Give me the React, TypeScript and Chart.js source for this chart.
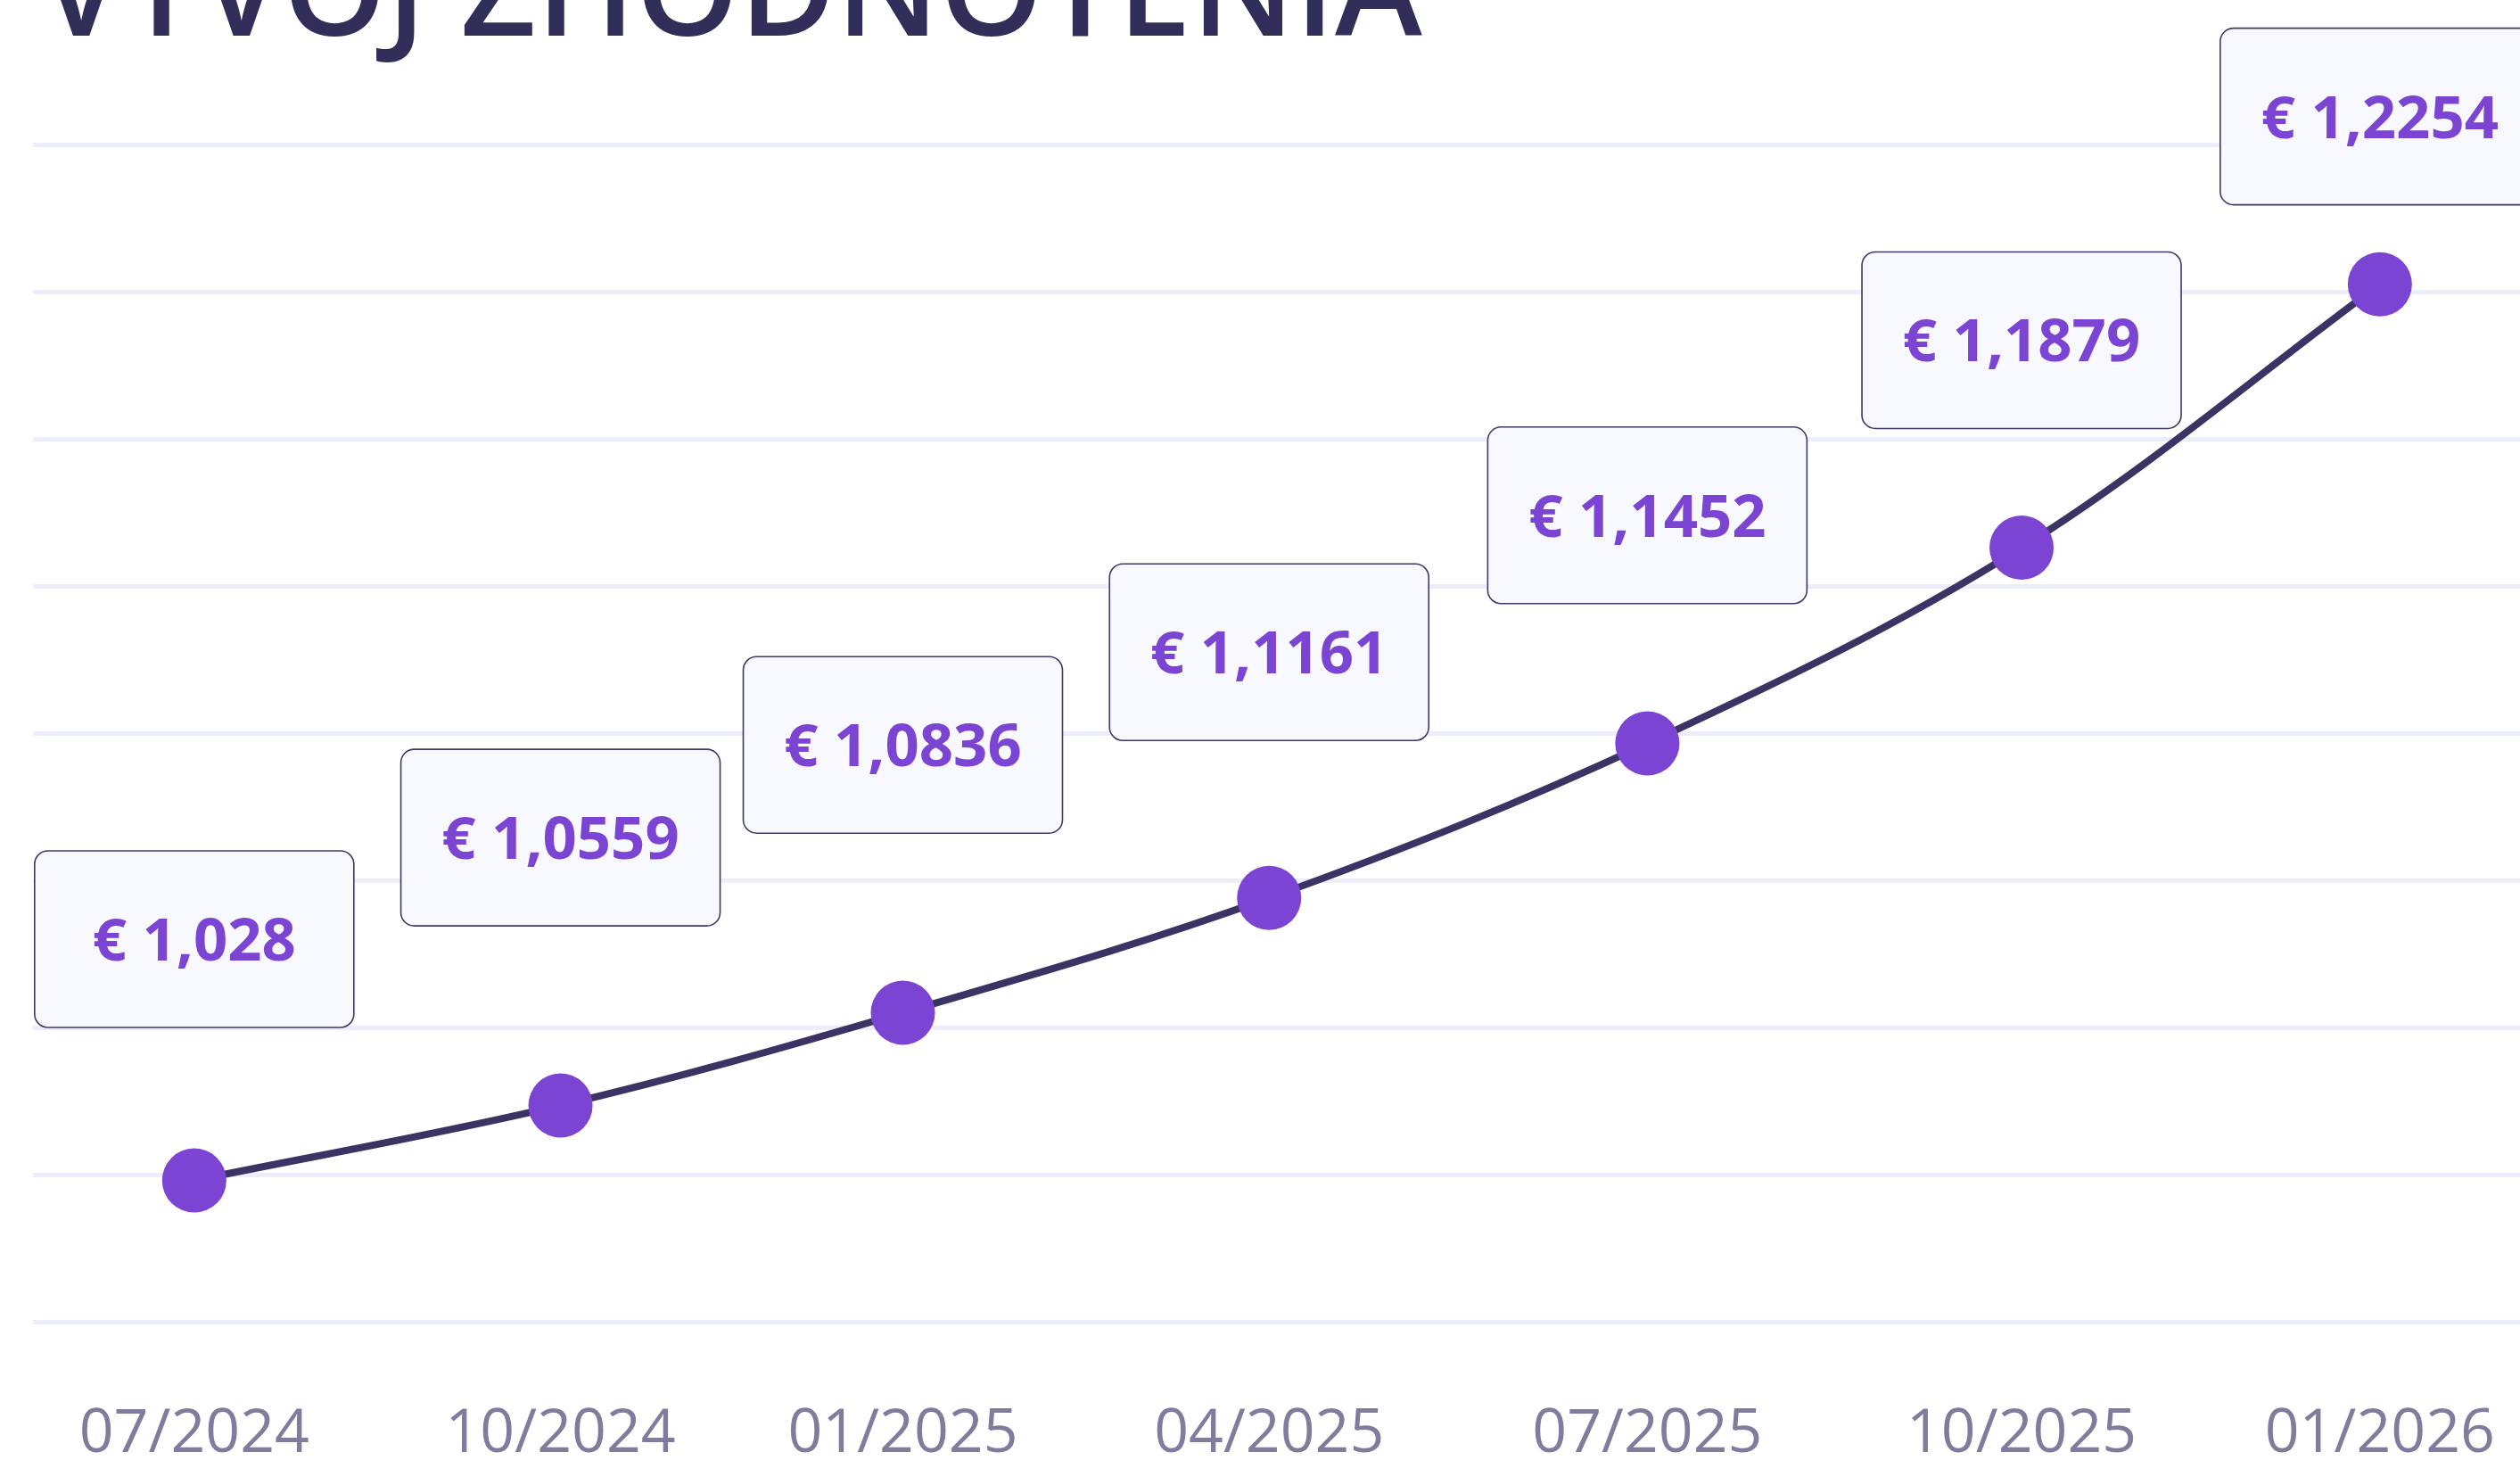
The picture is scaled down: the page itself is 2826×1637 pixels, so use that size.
import React, { useEffect, useRef } from "react";
import { Chart, registerables } from "chart.js";

Chart.register(...registerables);

const TITLE = "VÝVOJ ZHODNOTENIA";
const tickLabels = ["07/2024", "10/2024", "01/2025", "04/2025", "07/2025", "10/2025", "01/2026"];
// days since 1 Jul 2024 of each observation
const dayOffsets = [0, 92, 178, 270, 365, 459, 549];
// line values (axis has no labels; read in gridline units)
const lineValues = [0.96, 1.47, 2.1, 2.88, 3.93, 5.26, 7.05];
const priceLabels = ["€ 1,028", "€ 1,0559", "€ 1,0836", "€ 1,1161", "€ 1,1452", "€ 1,1879", "€ 1,2254"];
// level (in axis units) at which each price box is anchored
const labelLevels = [2.6, 3.29, 3.92, 4.55, 5.48, 6.67, 8.19];

const W = 2826;
const H = 1637;

const titlePlugin = {
  id: "cutTitle",
  beforeDraw(chart: any) {
    const ctx = chart.ctx;
    ctx.save();
    ctx.font = '600 148px "Open Sans"';
    const m = ctx.measureText(TITLE).width;
    const size = (148 * 1550) / m;
    ctx.font = `600 ${size}px "Open Sans"`;
    ctx.fillStyle = "#322E5A";
    ctx.textAlign = "left";
    ctx.textBaseline = "alphabetic";
    ctx.fillText(TITLE, 45, 40);
    ctx.restore();
  },
};

const boxPlugin = {
  id: "priceBoxes",
  afterDatasetsDraw(chart: any) {
    const ctx = chart.ctx;
    const x = chart.scales.x;
    const y = chart.scales.y;
    ctx.save();
    priceLabels.forEach((t, i) => {
      const cx = x.getPixelForValue(dayOffsets[i]);
      const cy = y.getPixelForValue(labelLevels[i]);
      const w = 358;
      const h = 198;
      ctx.beginPath();
      ctx.roundRect(cx - w / 2, cy - h / 2, w, h, 15);
      ctx.fillStyle = "#F8F9FE";
      ctx.fill();
      ctx.lineWidth = 1.6;
      ctx.strokeStyle = "#3F3868";
      ctx.stroke();
      ctx.fillStyle = "#7B44D2";
      ctx.font = '700 67px "Open Sans"';
      ctx.textAlign = "center";
      ctx.textBaseline = "alphabetic";
      ctx.fillText(t, cx, cy + 24);
    });
    ctx.restore();
  },
};

export default function App() {
  const ref = useRef<HTMLCanvasElement | null>(null);

  useEffect(() => {
    document.body.style.margin = "0";
    const canvas = ref.current;
    if (!canvas) return;
    const chart = new Chart(canvas, {
      type: "line",
      data: {
        datasets: [
          {
            data: dayOffsets.map((d, i) => ({ x: d, y: lineValues[i] })),
            borderColor: "#3A3363",
            borderWidth: 8,
            tension: 0.35,
            pointRadius: 36,
            pointHoverRadius: 36,
            pointBackgroundColor: "#7B44D2",
            pointBorderWidth: 0,
            pointBorderColor: "#7B44D2",
            fill: false,
            clip: false as any,
          },
        ],
      },
      options: {
        animation: false,
        responsive: false,
        devicePixelRatio: 1,
        events: [],
        layout: { autoPadding: false, padding: { top: 162, left: 37, right: 0, bottom: 0 } },
        plugins: {
          legend: { display: false },
          title: { display: false },
          tooltip: { enabled: false },
        },
        scales: {
          x: {
            type: "linear",
            min: -40.5,
            max: 584.2,
            grid: { display: false, drawTicks: false },
            border: { display: false },
            afterBuildTicks: (scale: any) => {
              scale.ticks = dayOffsets.map((v) => ({ value: v }));
            },
            afterFit: (scale: any) => {
              scale.height = 155;
              scale.paddingLeft = 0;
              scale.paddingRight = 0;
            },
            ticks: {
              autoSkip: false,
              maxRotation: 0,
              padding: 86,
              color: "#807C9D",
              font: { family: '"Open Sans"', size: 68, weight: "400" as any },
              callback: (_v: any, i: number) => tickLabels[i],
            },
          },
          y: {
            min: 0,
            max: 8,
            grid: { color: "#ECEEFB", lineWidth: 5, drawTicks: false },
            border: { display: false },
            afterFit: (scale: any) => {
              scale.width = 0;
              scale.paddingTop = 0;
              scale.paddingBottom = 0;
            },
            ticks: { display: false, stepSize: 1 },
          },
        },
      },
      plugins: [titlePlugin, boxPlugin],
    } as any);
    return () => chart.destroy();
  }, []);

  return (
    <div style={{ position: "fixed", left: 0, top: 0, width: W, height: H, background: "#ffffff", overflow: "hidden" }}>
      <canvas ref={ref} width={W} height={H} style={{ width: W, height: H, display: "block" }} />
    </div>
  );
}
